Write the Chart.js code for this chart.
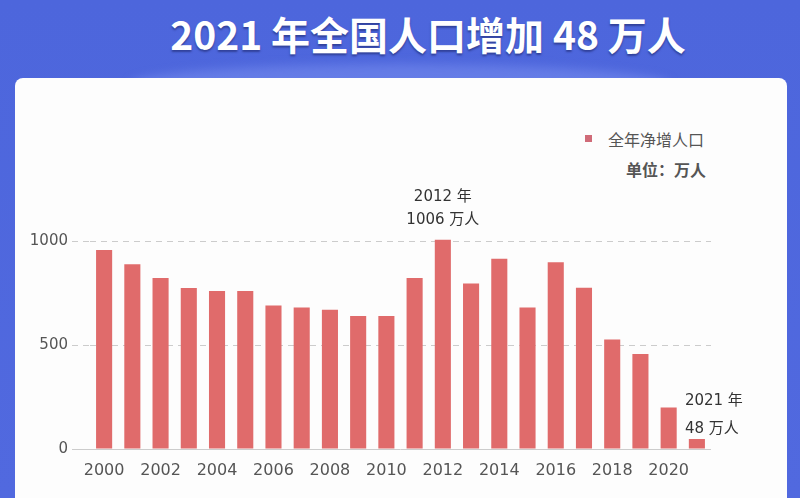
<!DOCTYPE html>
<html>
<head>
<meta charset="utf-8">
<script src="https://cdn.jsdelivr.net/npm/chart.js@4"></script>
<style>
  html, body { margin: 0; padding: 0; }
  body {
    width: 800px; height: 498px; overflow: hidden; position: relative;
    background: linear-gradient(#4d66dc, #5169df);
    font-family: "Noto Sans CJK SC", sans-serif;
  }
  #glow {
    position: absolute; left: 130px; top: 64px; width: 540px; height: 40px;
    border-radius: 50%; background: rgba(120, 142, 238, 0.55); filter: blur(5px);
  }
  #card {
    position: absolute; left: 15px; top: 78px; width: 772px; height: 440px;
    background: #fdfdfd; border-radius: 8px;
  }
  #title {
    position: absolute; left: 0; top: 9px; width: 856px; text-align: center;
    color: #fff; font-weight: bold; font-size: 39px; line-height: 48px;
    text-shadow: 0 2px 2px rgba(25, 35, 100, 0.55);
  }
  #swatch { position: absolute; left: 585px; top: 135px; width: 7px; height: 7px; background: #d06b78; }
  #series { position: absolute; left: 608px; top: 129px; font-size: 16px; line-height: 20px; color: #555; }
  #unit { position: absolute; right: 94px; top: 159px; font-size: 16px; line-height: 20px; color: #555; font-weight: bold; }
  #c { position: absolute; left: 0; top: 0; }
</style>
</head>
<body>
<div id="glow"></div>
<div id="card"></div>
<div id="title">2021 年全国人口增加 48 万人</div>
<div id="swatch"></div>
<div id="series">全年净增人口</div>
<div id="unit">单位：万人</div>
<canvas id="c" width="800" height="498"></canvas>
<script>
// years on the x axis
const years = ["2000", "2001", "2002", "2003", "2004", "2005", "2006", "2007", "2008", "2009", "2010",
  "2011", "2012", "2013", "2014", "2015", "2016", "2017", "2018", "2019", "2020", "2021"];
// net population increase, 10k people
const netIncrease = [957, 888, 822, 774, 760, 760, 690, 680, 670, 640, 640,
  822, 1006, 796, 915, 680, 898, 775, 527, 457, 200, 48];
const yTicks = [0, 500, 1000];
const peakYear = "2012";
const lastYear = "2021";

const dash = (ctx) => (ctx.tick && ctx.tick.value === 0 ? [] : [6, 5]);

// text notes above the 2012 and 2021 bars
const notes = {
  id: "notes",
  afterDatasetsDraw(chart) {
    const ctx = chart.ctx;
    const bars = chart.getDatasetMeta(0).data;
    ctx.save();
    ctx.fillStyle = "#333";
    ctx.font = '15px "DejaVu Sans", "Noto Sans CJK SC"';
    ctx.textBaseline = "middle";

    let i = years.indexOf(peakYear);
    let b = bars[i];
    ctx.textAlign = "center";
    ctx.fillText(years[i] + " 年", b.x, b.y - 43);
    ctx.fillText(netIncrease[i] + " 万人", b.x, b.y - 20);

    i = years.indexOf(lastYear);
    b = bars[i];
    ctx.textAlign = "left";
    ctx.fillText(years[i] + " 年", b.x - 12, b.y - 38);
    ctx.fillText(netIncrease[i] + " 万人", b.x - 12, b.y - 10);
    ctx.restore();
  }
};

new Chart(document.getElementById("c"), {
  type: "bar",
  data: {
    labels: years,
    datasets: [{
      label: "全年净增人口",
      data: netIncrease,
      backgroundColor: "#e06b6b",
      barPercentage: 0.57,
      categoryPercentage: 1
    }]
  },
  options: {
    responsive: false,
    animation: false,
    devicePixelRatio: 1,
    layout: { padding: { left: 0, right: 89, top: 199.4, bottom: 0 } },
    plugins: { legend: { display: false }, tooltip: { enabled: false } },
    scales: {
      x: {
        grid: { display: false, drawTicks: false },
        border: { display: false },
        ticks: {
          autoSkip: false, maxRotation: 0, padding: 12, color: "#555",
          font: { family: "DejaVu Sans", size: 16 },
          callback: (v, i) => (i % 2 === 0 ? years[i] : "")
        },
        afterFit: (s) => { s.height = 49; }
      },
      y: {
        min: 0, max: 1200,
        afterBuildTicks: (s) => { s.ticks = yTicks.map((v) => ({ value: v })); },
        afterFit: (s) => { s.width = 90; },
        grid: { color: "#cccccc", tickColor: "#cccccc", tickLength: 18, tickBorderDash: dash },
        border: { display: false, dash: dash },
        ticks: {
          padding: 4, color: "#555",
          font: { family: "DejaVu Sans", size: 15 },
          callback: (v) => String(v)
        }
      }
    }
  },
  plugins: [notes]
});
</script>
</body>
</html>
